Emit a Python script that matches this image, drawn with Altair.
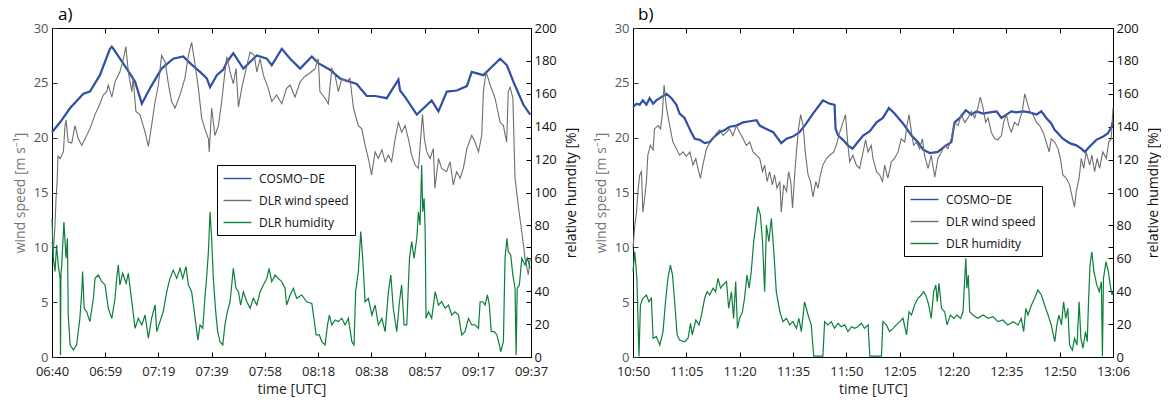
import altair as alt
import pandas as pd

FONT = "Open Sans"

# ---------------- tick labels / series names ----------------
A_TICKS = ["06:40", "06:59", "07:19", "07:39", "07:58", "08:18", "08:38", "08:57", "09:17", "09:37"]
B_TICKS = ["10:50", "11:05", "11:20", "11:35", "11:50", "12:05", "12:20", "12:35", "12:50", "13:06"]
A_SPAN = 177   # minutes from 06:40 to 09:37
B_SPAN = 136   # minutes from 10:50 to 13:06
WIND_TICKS = [0, 5, 10, 15, 20, 25, 30]
HUM_TICKS = [0, 20, 40, 60, 80, 100, 120, 140, 160, 180, 200]
SERIES = ["COSMO\u2212DE", "DLR wind speed", "DLR humidity"]
COLORS = ["#2f4ea6", "#6e6e6e", "#0b7f3b"]

# ---------------- panel a) (minutes after 06:40, value) ----------------
A_COSMO = [(0, 20.5), (3.0, 21.4), (6.7, 22.7), (11.6, 24.0), (14.0, 24.2), (17.7, 25.7), (21.4, 28.1),
           (22.1, 28.3), (22.7, 28.1), (27.6, 26.3), (30.7, 25.1), (33.2, 23.1), (36.2, 24.5), (40.5, 26.3),
           (44.8, 27.2), (48.5, 27.4), (51.0, 26.8), (54.7, 26.0), (57.2, 25.4), (58.4, 24.6), (60.9, 25.7),
           (63.3, 26.2), (64.6, 26.9), (67.0, 27.7), (70.7, 26.3), (75.7, 27.5), (79.4, 27.2), (81.2, 26.6),
           (84.9, 28.1), (88.0, 27.2), (91.7, 26.3), (96.0, 27.4), (98.4, 26.8), (102.7, 26.2), (106.4, 25.4),
           (112.6, 24.9), (116.3, 23.8), (119.4, 23.8), (123.7, 23.6), (128.0, 25.3), (128.6, 24.3),
           (130.5, 23.7), (134.8, 22.1), (140.3, 23.4), (142.8, 22.4), (145.9, 24.2), (149.6, 24.3),
           (153.3, 24.7), (155.1, 26.0), (159.4, 25.7), (161.9, 26.3), (165.6, 27.2), (168.1, 26.6),
           (170.5, 25.1), (174.2, 23.0), (176.7, 22.1)]

A_WIND = [(0, 10.5), (0.5, 9.5), (1.1, 12.0), (1.5, 14.5), (1.9, 16.0), (2.2, 18.3), (3.0, 18.1), (4.2, 18.7),
          (4.8, 21.1), (5.2, 21.6), (6.0, 19.6), (7.3, 19.5), (8.5, 21.1), (9.7, 19.9), (11.0, 19.3),
          (12.2, 19.9), (14.0, 20.8), (15.9, 22.1), (17.7, 23.1), (19.0, 23.9), (20.2, 24.2), (20.8, 24.8),
          (22.1, 23.7), (23.3, 25.1), (25.1, 26.0), (26.4, 27.2), (27.3, 28.3), (28.2, 26.0), (29.5, 24.2),
          (30.0, 25.4), (31.0, 22.4), (32.5, 22.1), (34.4, 20.5), (35.6, 19.2), (36.8, 21.1), (38.1, 23.3),
          (39.3, 24.8), (40.5, 27.5), (41.8, 26.9), (43.0, 24.9), (44.2, 23.3), (45.5, 22.7), (47.3, 23.9),
          (49.1, 25.4), (50.4, 27.5), (51.6, 28.7), (52.9, 26.6), (54.1, 24.5), (55.3, 21.8), (56.5, 20.8),
          (57.8, 19.9), (58.1, 18.7), (59.0, 22.7), (60.2, 20.2), (61.5, 21.1), (62.7, 23.3), (63.9, 26.0),
          (64.6, 27.4), (65.8, 26.0), (67.0, 24.9), (68.0, 26.3), (68.9, 22.8), (70.1, 24.5), (72.0, 26.6),
          (73.2, 27.8), (74.7, 27.5), (75.7, 26.0), (76.9, 27.2), (78.1, 25.7), (79.9, 24.5), (81.2, 23.3),
          (83.0, 23.9), (84.9, 23.1), (86.7, 24.5), (88.0, 24.8), (89.8, 23.7), (91.7, 25.1), (93.5, 25.6),
          (95.3, 25.9), (97.2, 26.3), (98.4, 27.2), (99.0, 24.2), (100.9, 23.6), (102.1, 23.1), (103.4, 26.3),
          (104.6, 25.7), (105.8, 24.2), (107.1, 25.4), (108.9, 25.1), (110.1, 25.4), (111.4, 22.7),
          (113.2, 21.1), (114.5, 20.8), (115.7, 19.3), (116.9, 18.1), (118.1, 16.6), (119.4, 18.7),
          (120.6, 18.1), (121.9, 18.9), (123.1, 17.8), (124.3, 18.4), (125.5, 17.8), (126.8, 19.9),
          (128.0, 21.4), (129.2, 20.5), (130.5, 21.1), (131.7, 19.9), (132.9, 18.4), (134.2, 17.5),
          (135.4, 17.2), (136.4, 20.5), (136.9, 22.1), (137.6, 19.9), (138.5, 18.7), (139.7, 18.1),
          (140.9, 19.0), (141.5, 15.4), (142.8, 18.1), (144.0, 17.2), (145.8, 16.9), (147.1, 17.8),
          (148.3, 15.7), (149.5, 16.9), (150.8, 16.3), (152.0, 17.2), (153.3, 19.0), (155.1, 20.2),
          (156.3, 19.6), (157.6, 18.7), (158.8, 20.2), (159.4, 24.2), (160.4, 26.0), (161.9, 24.8),
          (163.7, 23.6), (165.6, 21.4), (166.8, 21.1), (168.0, 19.6), (168.6, 24.2), (169.3, 24.6),
          (170.3, 23.6), (171.1, 16.3), (172.4, 13.6), (173.6, 11.4), (174.8, 9.0), (176.0, 7.5), (176.7, 9.0)]

A_HUM = [(0, 84), (0.5, 60), (1.1, 52), (1.7, 68), (2.3, 56), (3.0, 48), (3.15, 1), (3.3, 50), (3.6, 56),
         (4.4, 82), (5.2, 60), (5.7, 72), (6.0, 25.5), (6.7, 7.3), (7.9, 4.3), (9.1, 7.3), (10.3, 23.5),
         (11.0, 39.7), (11.3, 51.9), (11.9, 29.6), (12.8, 27.5), (14.0, 21.5), (15.3, 35.7), (15.9, 47.8),
         (17.1, 49.8), (18.4, 45.8), (19.6, 43.8), (20.8, 29.6), (22.1, 23.5), (23.3, 35.7), (23.9, 47.8),
         (24.5, 55.9), (25.1, 43.8), (26.1, 50.9), (27.4, 44.8), (28.2, 50.9), (29.5, 33.6), (30.7, 17.4),
         (31.9, 23.5), (33.2, 19.5), (34.4, 25.5), (35.6, 11.4), (36.8, 23.5), (38.1, 31.6), (38.7, 15.4),
         (39.9, 21.5), (41.1, 27.5), (42.4, 39.7), (43.6, 47.8), (44.8, 52.9), (46.1, 47.8), (47.3, 53.9),
         (48.3, 47.8), (49.5, 54.9), (50.4, 43.8), (51.6, 39.7), (52.9, 23.5), (53.9, 10.3), (54.7, 19.5),
         (55.7, 17.4), (56.5, 35.7), (57.2, 49.8), (57.8, 64.0), (58.4, 88.3), (59.0, 72.2), (59.6, 47.8),
         (60.5, 27.5), (61.2, 15.4), (62.1, 9.3), (63.1, 7.3), (63.9, 19.5), (64.8, 27.5), (65.8, 33.6),
         (67.0, 53.9), (68.0, 41.8), (68.9, 39.7), (69.7, 31.6), (70.7, 39.7), (72.0, 33.6), (73.2, 29.6),
         (74.4, 35.7), (75.7, 31.6), (76.9, 39.7), (78.1, 43.8), (79.4, 47.8), (80.2, 53.9), (81.2, 45.8),
         (82.4, 49.8), (83.6, 47.8), (84.9, 45.8), (86.1, 41.8), (86.7, 31.6), (88.0, 37.7), (89.2, 41.8),
         (90.4, 35.7), (92.3, 37.7), (94.1, 33.6), (96.0, 32.6), (96.8, 23.5), (97.6, 13.4), (98.8, 13.4),
         (99.7, 9.3), (100.9, 7.3), (101.8, 19.5), (102.5, 25.5), (103.4, 19.5), (104.6, 22.5), (105.8, 21.5),
         (107.1, 23.5), (108.3, 19.5), (109.5, 23.5), (110.8, 9.3), (111.6, 7.3), (112.2, 39.7), (113.2, 51.9),
         (114.1, 76.2), (114.8, 60.0), (115.7, 33.6), (116.9, 35.7), (118.2, 25.5), (119.4, 31.6),
         (120.6, 19.5), (121.9, 23.5), (123.1, 15.4), (124.3, 39.7), (125.2, 49.8), (126.1, 29.6),
         (127.4, 15.4), (128.4, 33.6), (129.2, 43.8), (130.1, 19.5), (131.1, 19.5), (132.1, 60.0),
         (132.9, 70.1), (133.8, 60.0), (134.8, 72.2), (135.4, 88.3), (136.0, 80.2), (136.6, 116.7),
         (137.0, 88.3), (137.5, 96.5), (137.9, 76.2), (138.2, 23.5), (139.1, 27.5), (140.3, 23.5),
         (141.6, 39.7), (142.8, 31.6), (144.0, 33.6), (145.3, 29.6), (146.5, 31.6), (147.7, 25.5),
         (148.9, 27.5), (150.2, 25.5), (151.4, 13.4), (152.6, 15.4), (153.9, 23.5), (155.1, 19.5),
         (156.3, 19.5), (157.6, 17.4), (158.2, 33.6), (159.2, 33.6), (160.0, 31.6), (160.9, 37.7),
         (161.6, 31.6), (162.3, 15.4), (163.4, 15.4), (164.4, 13.4), (165.3, 7.3), (165.8, 3.2), (166.8, 9.3),
         (167.4, 60.0), (168.1, 72.2), (168.6, 64.0), (169.5, 62.0), (170.3, 49.8), (171.1, 41.8),
         (171.5, 1.2), (171.9, 41.8), (172.7, 43.8), (173.6, 60.0), (174.8, 55.9), (175.7, 60.0), (176.7, 53.9)]

# ---------------- panel b) (minutes after 10:50, value) ----------------
B_COSMO = [(0, 22.8), (1.0, 23.1), (1.9, 23.0), (2.8, 23.4), (3.8, 23.0), (4.7, 23.6), (5.7, 23.1), (6.6, 23.4),
           (8.0, 23.7), (9.5, 24.0), (10.9, 23.6), (12.3, 23.0), (13.2, 22.2), (14.6, 21.8), (15.6, 21.1),
           (16.5, 20.5), (17.5, 19.9), (18.9, 19.8), (20.3, 19.5), (21.7, 19.6), (23.1, 20.1), (24.6, 20.5),
           (26.0, 20.7), (27.4, 21.0), (29.3, 21.1), (31.2, 21.4), (33.1, 21.5), (35.0, 21.6), (35.9, 21.1),
           (37.8, 20.8), (39.7, 20.5), (41.1, 19.9), (42.0, 19.5), (43.5, 19.9), (45.3, 20.1), (47.2, 20.5),
           (49.1, 21.3), (51.0, 22.2), (52.9, 23.0), (53.8, 23.4), (55.7, 23.1), (57.1, 23.0), (57.4, 20.8),
           (58.1, 20.2), (59.5, 19.8), (60.9, 19.3), (62.2, 19.0), (63.7, 19.6), (65.2, 20.2), (67.1, 20.6),
           (69.0, 21.4), (70.8, 21.8), (72.5, 22.7), (74.1, 22.2), (76.5, 21.3), (78.9, 20.2), (80.7, 19.6),
           (82.2, 18.9), (84.1, 18.6), (86.4, 18.7), (88.3, 19.2), (90.2, 19.6), (91.1, 21.4), (92.6, 21.8),
           (94.3, 22.5), (95.9, 22.1), (97.3, 22.4), (99.2, 22.2), (101.1, 22.3), (103.0, 22.4), (104.4, 21.8),
           (105.8, 22.1), (107.2, 22.4), (108.6, 22.3), (110.5, 22.4), (112.4, 22.3), (114.3, 22.1),
           (115.7, 22.4), (117.1, 21.8), (118.5, 21.3), (119.5, 20.7), (120.4, 20.4), (121.8, 19.9),
           (123.7, 19.5), (125.6, 19.3), (127.0, 19.0), (128.0, 18.7), (129.4, 19.2), (131.3, 19.8),
           (133.2, 20.1), (134.6, 20.4), (135.6, 21.0), (135.9, 21.4)]

B_WIND = [(0, 9.9), (0.5, 12.0), (1.0, 13.2), (1.4, 15.1), (1.9, 16.6), (2.4, 16.9), (2.8, 13.2), (3.3, 14.5),
          (3.8, 16.0), (4.2, 18.4), (4.9, 19.3), (5.7, 18.9), (6.1, 20.8), (7.1, 21.1), (7.8, 20.8), (8.3, 22.1),
          (8.8, 24.8), (9.5, 22.7), (10.4, 21.1), (11.3, 19.6), (12.3, 19.0), (13.2, 18.4), (14.2, 18.7),
          (15.1, 18.3), (16.1, 18.7), (17.0, 17.5), (17.8, 18.1), (18.4, 17.2), (19.1, 16.3), (19.8, 17.5),
          (20.8, 19.0), (21.7, 19.5), (22.7, 19.9), (23.6, 20.4), (24.6, 20.7), (25.5, 20.2), (26.5, 20.5),
          (27.4, 20.8), (28.3, 20.2), (29.3, 21.1), (30.2, 20.5), (31.2, 19.9), (32.1, 19.3), (33.1, 19.6),
          (34.0, 18.7), (35.0, 18.4), (35.9, 18.1), (36.7, 16.9), (37.3, 17.5), (38.0, 16.0), (38.7, 16.9),
          (39.5, 15.7), (40.1, 16.6), (40.8, 15.4), (41.6, 16.0), (42.0, 13.2), (42.7, 15.7), (43.5, 15.1),
          (44.1, 16.9), (44.7, 16.0), (45.2, 13.6), (45.8, 16.6), (46.3, 18.7), (46.9, 20.8), (47.5, 22.1),
          (48.2, 21.1), (48.8, 18.7), (49.6, 16.6), (50.3, 16.0), (51.0, 14.6), (51.8, 16.0), (52.4, 15.4),
          (53.1, 16.6), (53.8, 17.5), (54.8, 18.1), (55.7, 18.4), (56.9, 18.7), (57.6, 19.3), (58.6, 20.5),
          (59.5, 21.4), (60.2, 22.1), (60.9, 19.3), (61.4, 17.8), (62.3, 18.4), (63.3, 17.5), (64.2, 17.2),
          (65.2, 18.7), (65.9, 19.8), (66.6, 18.7), (67.5, 19.3), (68.0, 18.1), (69.0, 16.9), (69.9, 16.6),
          (70.7, 16.0), (71.3, 17.5), (72.2, 16.3), (73.2, 17.8), (74.1, 18.1), (75.1, 18.7), (76.0, 19.9),
          (77.0, 19.6), (77.6, 21.1), (78.2, 22.1), (78.9, 20.5), (79.5, 19.3), (80.3, 19.6), (81.2, 19.0),
          (82.0, 19.9), (82.6, 18.4), (83.6, 17.2), (84.5, 18.4), (85.5, 16.4), (86.4, 18.1), (87.4, 18.7),
          (88.3, 19.3), (89.2, 19.0), (90.2, 19.9), (91.1, 21.4), (92.1, 21.1), (93.0, 22.1), (94.0, 21.4),
          (94.9, 21.8), (95.9, 22.4), (96.8, 21.8), (97.7, 22.7), (98.4, 23.7), (99.2, 22.7), (99.9, 21.4),
          (100.6, 21.8), (101.5, 20.5), (102.5, 19.9), (103.4, 19.8), (104.4, 20.2), (105.0, 21.4),
          (105.8, 22.1), (106.5, 21.1), (107.2, 20.5), (108.1, 21.4), (109.1, 21.1), (109.7, 21.8),
          (110.3, 22.4), (111.0, 24.0), (111.6, 23.3), (112.4, 22.4), (113.3, 22.1), (114.3, 21.4),
          (115.2, 21.1), (116.2, 20.5), (117.1, 19.6), (117.9, 18.7), (118.5, 19.9), (119.5, 19.6),
          (120.4, 19.0), (121.1, 18.1), (121.8, 16.6), (122.8, 16.3), (123.7, 15.7), (124.5, 14.5),
          (125.1, 13.7), (125.6, 15.1), (126.4, 16.3), (127.0, 18.1), (127.7, 17.2), (128.4, 18.7),
          (129.4, 17.5), (130.0, 18.4), (130.8, 16.9), (131.5, 18.1), (132.2, 17.2), (133.1, 18.7),
          (134.1, 18.1), (134.8, 19.6), (135.5, 19.9), (136.0, 22.7)]

B_HUM = [(0, 51.9), (0.5, 64.0), (1.1, 47.8), (1.7, 0.5), (2.1, 31.6), (2.8, 35.7), (3.8, 37.7), (4.5, 33.6),
         (5.2, 35.7), (5.7, 11.4), (6.6, 12.4), (7.6, 7.3), (8.5, 15.4), (9.3, 35.7), (9.9, 47.8), (10.6, 55.9),
         (11.2, 49.8), (11.8, 33.6), (12.5, 13.4), (13.2, 10.3), (14.6, 9.3), (15.6, 11.4), (16.3, 20.5),
         (16.8, 13.4), (17.8, 22.5), (18.7, 19.5), (19.4, 25.5), (20.3, 35.7), (21.0, 39.7), (21.7, 37.7),
         (22.7, 41.8), (23.4, 39.7), (24.1, 47.8), (24.8, 41.8), (25.5, 43.8), (26.5, 45.8), (27.1, 29.6),
         (27.9, 39.7), (28.5, 23.5), (29.1, 45.8), (29.6, 17.4), (30.2, 23.5), (31.0, 27.5), (31.6, 35.7),
         (32.3, 49.8), (32.9, 41.8), (33.5, 51.9), (34.2, 70.1), (34.8, 80.2), (35.4, 91.4), (36.1, 86.3),
         (36.7, 70.1), (37.3, 39.7), (37.8, 80.2), (38.5, 70.1), (39.2, 84.3), (39.9, 64.0), (40.6, 39.7),
         (41.6, 27.5), (42.5, 21.5), (43.5, 23.5), (44.4, 19.5), (45.3, 21.5), (46.3, 17.4), (47.0, 23.5),
         (47.7, 15.4), (48.6, 33.6), (49.6, 25.5), (50.5, 19.5), (51.2, 0.5), (53.8, 0.5), (54.3, 21.5),
         (55.2, 19.5), (56.2, 21.5), (57.1, 17.4), (58.1, 20.5), (59.0, 18.4), (60.0, 19.5), (60.9, 15.4),
         (61.9, 18.4), (62.8, 17.4), (63.7, 18.4), (64.7, 20.5), (65.6, 17.4), (66.6, 19.5), (67.1, 0.5),
         (70.4, 0.5), (70.8, 21.5), (71.8, 19.5), (72.7, 15.4), (73.7, 17.4), (74.6, 19.5), (75.6, 21.5),
         (76.5, 23.5), (77.5, 13.4), (78.2, 27.5), (78.9, 25.5), (79.8, 31.6), (80.7, 35.7), (81.7, 37.7),
         (82.4, 39.7), (83.1, 36.7), (83.8, 31.6), (84.5, 23.5), (85.2, 39.7), (85.8, 43.8), (86.2, 33.6),
         (86.7, 44.8), (87.4, 29.6), (88.3, 27.5), (89.0, 19.5), (89.9, 25.5), (90.9, 23.5), (91.8, 25.5),
         (92.8, 23.5), (93.5, 27.5), (93.9, 43.8), (94.3, 60.0), (94.6, 41.8), (95.0, 49.8), (95.4, 27.5),
         (96.3, 25.5), (97.7, 23.5), (99.2, 25.5), (100.6, 23.5), (102.0, 24.5), (103.4, 21.5), (104.8, 22.5),
         (106.2, 19.5), (107.7, 21.5), (109.1, 19.5), (110.0, 23.5), (110.7, 15.4), (111.3, 29.6),
         (111.9, 25.5), (112.9, 31.6), (113.8, 35.7), (114.7, 40.7), (115.7, 37.7), (116.6, 31.6),
         (117.6, 25.5), (118.5, 19.5), (119.5, 9.3), (120.1, 19.5), (120.7, 25.5), (121.4, 19.5),
         (122.0, 33.6), (122.6, 23.5), (123.2, 29.6), (123.7, 7.3), (124.5, 4.3), (125.1, 11.4), (125.8, 7.3),
         (126.4, 33.6), (126.9, 11.4), (127.5, 5.3), (128.2, 15.4), (128.7, 9.3), (129.1, 35.7), (129.5, 55.9),
         (130.0, 64.0), (130.6, 51.9), (131.4, 43.8), (132.1, 39.7), (132.7, 45.8), (133.0, 0.5), (133.3, 47.8),
         (134.0, 57.9), (134.7, 51.9), (135.2, 43.8), (135.7, 37.7), (136.0, 39.7)]


def frame(pairs, name):
    return pd.DataFrame({"t": [p[0] for p in pairs], "v": [p[1] for p in pairs], "series": name})


def panel(label, ticks, span, cosmo, wind, hum, width, legend_xy, title_dx):
    n = len(ticks) - 1
    step = span / n
    tick_vals = [round(step * i, 4) for i in range(n + 1)]
    arr = "[" + ",".join("'" + s + "'" for s in ticks) + "]"
    label_expr = arr + "[round(datum.value / " + str(step) + ")]"
    xscale = alt.Scale(domain=[0, span], nice=False, zero=False)

    legend = alt.Legend(
        title=None, orient="none", legendX=legend_xy[0], legendY=legend_xy[1], direction="vertical",
        symbolType="M-2.15,0H2.15", symbolSize=169, symbolStrokeWidth=1.4, symbolOffset=7,
        labelFont=FONT, labelFontSize=12, labelColor="#111111", strokeColor="#000000",
        fillColor="#ffffff", padding=6, rowPadding=8, labelOffset=14, offset=0,
    )
    color = alt.Color("series:N", scale=alt.Scale(domain=SERIES, range=COLORS), legend=legend)

    x_bottom = alt.X(
        "t:Q", scale=xscale,
        axis=alt.Axis(orient="bottom", values=tick_vals, labelExpr=label_expr, title="time [UTC]",
                      offset=-5, tickSize=5, domain=False, grid=False, labelPadding=8, titlePadding=4,
                      labelColor="#222222", titleColor="#222222", tickColor="#000000", labelFlush=False),
    )
    x_top = alt.X(
        "t:Q", scale=xscale,
        axis=alt.Axis(orient="top", values=tick_vals, labels=False, title=None, offset=-5, tickSize=5,
                      domain=False, grid=False, tickColor="#000000"),
    )
    y_wind = alt.Y(
        "v:Q", scale=alt.Scale(domain=[0, 30], nice=False),
        axis=alt.Axis(orient="left", values=WIND_TICKS, title="wind speed [m s\u207b\u00b9]", offset=-5,
                      tickSize=5, domain=False, grid=False, labelPadding=4, titlePadding=6,
                      labelColor="#555555", titleColor="#777777", tickColor="#333333"),
    )
    y_wind_right = alt.Y(
        "v:Q", scale=alt.Scale(domain=[0, 30], nice=False),
        axis=alt.Axis(orient="right", values=WIND_TICKS, labels=False, title=None, offset=-5,
                      tickSize=5, domain=False, grid=False, tickColor="#000000"),
    )
    y_hum = alt.Y(
        "v:Q", scale=alt.Scale(domain=[0, 200], nice=False),
        axis=alt.Axis(orient="right", values=HUM_TICKS, title="relative humdity [%]", offset=-5,
                      tickSize=5, domain=False, grid=False, labelPadding=3, titlePadding=8,
                      titleAngle=270, titleBaseline="top",
                      labelColor="#111111", titleColor="#111111", tickColor="#000000"),
    )

    c_line = alt.Chart(frame(cosmo, SERIES[0])).mark_line(strokeWidth=2.2).encode(
        x=x_bottom, y=y_wind, color=color)
    w_line = alt.Chart(frame(wind, SERIES[1])).mark_line(strokeWidth=1.1).encode(
        x=x_bottom, y=y_wind, color=color)
    h_line = alt.Chart(frame(hum, SERIES[2])).mark_line(strokeWidth=1.2).encode(
        x=x_top, y=y_hum, color=color)
    # invisible copy of the model series, only to carry the wind-speed ticks on the right edge
    tick_carrier = alt.Chart(frame(cosmo, SERIES[0])).mark_line(opacity=0).encode(
        x=alt.X("t:Q", scale=xscale, axis=None), y=y_wind_right)

    return (
        alt.layer(alt.layer(c_line, w_line), h_line, tick_carrier)
        .resolve_scale(y="independent")
        .resolve_axis(x="independent")
        .properties(
            width=width, height=329,
            title=alt.TitleParams(label, anchor="start", frame="group", fontSize=17, fontWeight="normal",
                                  font=FONT, color="#000000", dx=title_dx, offset=-2),
        )
    )


pa = panel("a)", A_TICKS, A_SPAN, A_COSMO, A_WIND, A_HUM, 479, (165, 137), 6)
pb = panel("b)", B_TICKS, B_SPAN, B_COSMO, B_WIND, B_HUM, 480, (271, 158), 5)

chart = (
    alt.hconcat(pa, pb, spacing=14)
    .resolve_scale(color="independent")
    .properties(padding={"left": 12, "top": 5, "right": 0, "bottom": 0}, background="white")
    .configure_view(stroke="#000000", strokeWidth=1)
    .configure_axis(labelFont=FONT, titleFont=FONT, labelFontSize=13, titleFontSize=14,
                    titleFontWeight="normal")
    .configure_legend(labelFont=FONT)
)

chart.save("out.html", embed_options={"renderer": "svg", "actions": False})
